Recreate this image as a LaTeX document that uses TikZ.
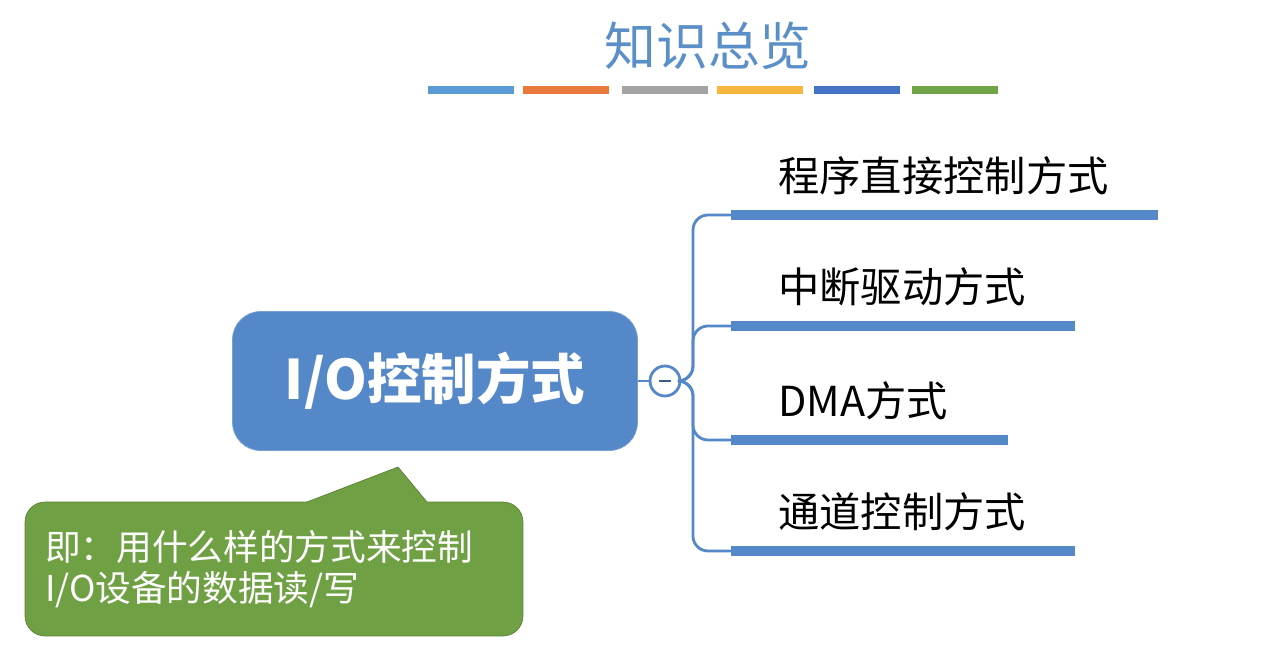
\documentclass[tikz,border=0pt]{standalone}
\usepackage{fontspec}
\setmainfont{Noto Sans CJK SC}
\usepackage{tikz}
\usetikzlibrary{positioning}

\definecolor{titleblue}{HTML}{5B8FC8}
\definecolor{mindblue}{HTML}{5588C8}
\definecolor{notegreen}{HTML}{70A044}
\definecolor{cbarA}{HTML}{5B9BD5}
\definecolor{cbarB}{HTML}{E97A3C}
\definecolor{cbarC}{HTML}{A3A3A3}
\definecolor{cbarD}{HTML}{F9B63C}
\definecolor{cbarE}{HTML}{4472C4}
\definecolor{cbarF}{HTML}{70A448}

\begin{document}
\begin{tikzpicture}[
    x=0.02cm,
    y=-0.02cm,
    every node/.style={inner sep=0pt},
    branch/.style={draw=mindblue, line width=1.6pt, rounded corners=0.3cm},
    branchbar/.style={fill=mindblue, minimum height=0.2cm},
    branchtext/.style={anchor=base west, font=\fontsize{23.5}{26}\selectfont}
]

\useasboundingbox (0,0) rectangle (1267,656);

% =================================================
% TITLE
% =================================================

\node[
    font=\fontsize{29.5}{33}\selectfont,
    text=titleblue,
    anchor=base
] (title) at (708,65)
{知识总览};

% Colour bars
\foreach \x/\c in {
    471/cbarA,
    566/cbarB,
    665/cbarC,
    760/cbarD,
    857/cbarE,
    955/cbarF}{
    \fill[fill=\c] (\x-43,86) rectangle (\x+43,94);
}

% =================================================
% MAIN NODE
% =================================================

\node[
    fill=mindblue,
    draw=mindblue!80!white,
    rounded corners=0.56cm,
    minimum width=8.1cm,
    minimum height=2.78cm,
    text=white,
    font=\fontsize{31}{34}\selectfont\bfseries
] (main) at (435,381)
{I/O控制方式};

% Collapse button
\node[
    circle,
    draw=mindblue,
    line width=1.6pt,
    fill=white,
    minimum size=0.6cm
] (hub) at (665,381) {};

\draw[mindblue!70!black, line width=1.4pt] (659,381) -- (671,381);

\draw[branch] (main.east) -- (hub.west);

\coordinate (trunk) at (693,381);

% =================================================
% BRANCHES
% =================================================

\foreach \i/\y/\w/\t in {
    1/215/427/程序直接控制方式,
    2/326/344/中断驱动方式,
    3/440/277/DMA方式,
    4/551/344/通道控制方式}{

    % Bar
    \node[
        branchbar,
        anchor=west,
        minimum width=\w*0.02cm
    ] (bar\i) at (731,\y) {};

    % Label
    \node[branchtext] (text\i) at (778,\y-24) {\t};

    % Connector
    \draw[branch] (hub.east) -- (trunk) |- (bar\i.west);
}

% =================================================
% NOTE
% =================================================

\node[
    fill=notegreen,
    draw=notegreen!80!black,
    rounded corners=0.4cm,
    minimum width=9.96cm,
    minimum height=2.68cm,
    text width=9.16cm,
    align=left,
    text=white,
    font=\fontsize{20.3}{23.3}\selectfont
] (note) at (274,569)
{即：用什么样的方式来控制\\
I/O设备的数据读/写};

% Pointer
\coordinate (tipA) at (307,502);
\coordinate (tipB) at (398,467);
\coordinate (tipC) at (427,502);

\fill[notegreen] (tipA) -- (tipB) -- (tipC) -- ([yshift=-2pt]tipC) -- ([yshift=-2pt]tipA) -- cycle;
\draw[notegreen!80!black] (tipA) -- (tipB) -- (tipC);

\end{tikzpicture}
\end{document}
